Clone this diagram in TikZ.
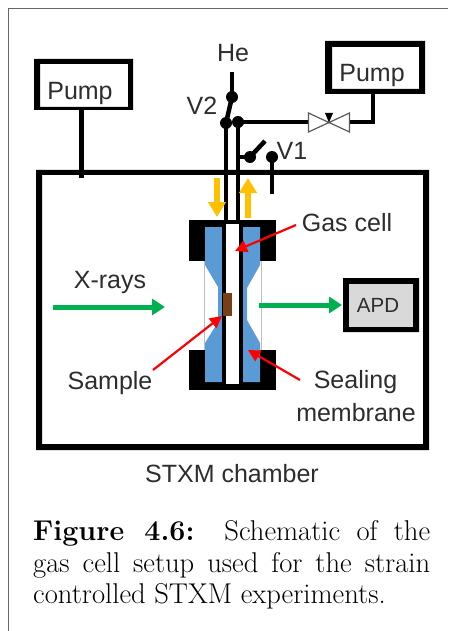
\documentclass[tikz,border=0pt]{standalone}
\usepackage{fontspec}
\setsansfont{Liberation Sans}
\usetikzlibrary{arrows.meta}
\definecolor{memb}{RGB}{91,155,213}
\definecolor{goldar}{RGB}{255,192,0}
\definecolor{greenar}{RGB}{0,176,80}
\definecolor{brownS}{RGB}{120,62,20}
\definecolor{txt}{RGB}{45,45,45}
\tikzset{
 x=1pt,y=-1pt,
 pipe/.style={line width=4.5pt},
 arm/.style={line width=4.5pt},
 lab/.style={font=\sffamily\fontsize{25}{25}\selectfont,text=txt,inner sep=0pt,anchor=base},
 capt/.style={font=\rmfamily\fontsize{28.6}{32}\selectfont,inner sep=0pt,anchor=base west},
 joint/.style={circle,fill=black,inner sep=0pt,minimum size=12pt},
 redar/.style={red,line width=2.2pt,-{Triangle[length=12pt,width=12pt]}},
 greenarrow/.style={greenar,line width=5pt,-{Triangle[length=13pt,width=16pt]}},
 goldarrow/.style={goldar,line width=6pt,-{Triangle[length=15pt,width=17pt]}},
 valve/.style={gray!70!black,line width=1.2pt,fill=white},
}
\begin{document}
\begin{tikzpicture}
\useasboundingbox (0,0) rectangle (448,631);
\fill[white] (0,0) rectangle (448,631);
\coordinate (fa) at (8,631); \coordinate (fb) at (8,9); \coordinate (fc) at (448,9);
\draw[gray!80!black,line width=1pt] (fa) -- (fb) -- (fc);
% chamber
\fill[even odd rule] (36,170) rectangle (429,450) (42,175) rectangle (423,444);
% pumps
\fill[even odd rule] (34,59) rectangle (133,110) (40,64) rectangle (128,107);
\node[lab] (p1) at (80,100) {Pump};
\fill[even odd rule] (325,41) rectangle (425,94) (332,47) rectangle (419,89);
\node[lab] (p2) at (372,82) {Pump};
\coordinate (c1) at (81.5,178);
\draw[pipe] (81.5,110) -- (c1);
% cell
\fill (189,220) rectangle (276,261);
\fill (189,350) rectangle (276,390);
\draw[gray!50,line width=.6pt] (204,261) -- (204,350) (261,261) -- (261,350);
\fill[memb] (205,227) -- (222,227) -- (222,382) -- (205,382) -- (205,343) -- (218,322) -- (218,287) -- (205,265) -- cycle;
\fill[memb] (243,227) -- (260,227) -- (260,265) -- (247,288) -- (247,320) -- (260,343) -- (260,382) -- (243,382) -- cycle;
\fill[black] (221.5,224) rectangle (225.5,384);
\fill[black] (239,224) rectangle (243,384);
\fill[white] (225.5,224) rectangle (239,384);
\fill[brownS] (223,293) rectangle (232,316);
% pipes
\coordinate (he) at (232,72); \coordinate (v2a) at (232,97); \coordinate (v2b) at (226,123);
\coordinate (j2) at (238,122); \coordinate (v1a) at (250,157); \coordinate (v1b) at (272,157);
\draw[pipe] (v2b) -- (226,222);
\draw[pipe] (j2) -- (238,222);
\draw[pipe] (he) -- (v2a);
\draw[arm] (v2a) -- (v2b);
\node[joint] (n1) at (v2a) {};
\node[joint] (n2) at (v2b) {};
\node[joint] (n3) at (j2) {};
\draw[pipe] (238,157) -- (v1a);
\node[joint] (n4) at (v1a) {};
\draw[arm] (v1a) -- (265,141);
\node[joint] (n5) at (v1b) {};
\draw[pipe] (v1b) -- (272,194);
% valve line
\draw[pipe] (j2) -- (309,122);
\draw[pipe] (349,122) -- (373,122) -- (373,92);
\draw[valve] (308.5,113) -- (308.5,132) -- (329,122.5) -- cycle;
\draw[valve] (349.5,113) -- (349.5,132) -- (329,122.5) -- cycle;
\fill (329,122.5) -- (325,113) -- (333,113) -- cycle;
% gold arrows
\draw[goldarrow] (217,178) -- (217,217);
\draw[goldarrow] (248,218) -- (248,178);
% green
\coordinate (xs) at (53,307); \coordinate (xe) at (165,307);
\draw[greenarrow] (xs) -- (xe);
\coordinate (gs) at (259,305);
\fill[even odd rule] (343,278) rectangle (419,332) (349,284) rectangle (413,327);
\fill[black!15] (349,284) rectangle (413,327);
\node[lab,font=\sffamily\fontsize{20.5}{20.5}\selectfont] (apd) at (378,312.5) {APD};
\draw[greenarrow] (gs) -- (342,305);
% labels
\node[lab] (he1) at (233,62) {He};
\node[lab] (v2) at (202,115) {V2};
\node[lab] (v1) at (292,160) {V1};
\node[lab] (gc) at (347,231) {Gas cell};
\node[lab] (xr) at (110,288) {X-rays};
\node[lab] (sa) at (110,389) {Sample};
\node[lab] (se) at (355.5,388) {Sealing};
\node[lab] (me) at (356,421.5) {membrane};
\coordinate (t1) at (235,251); \coordinate (t2) at (222,316); \coordinate (t3) at (248,350);
\coordinate (r1) at (296,225); \coordinate (r2) at (153,370); \coordinate (r3) at (300,380);
\draw[redar] (r1) -- (t1);
\draw[redar] (r2) -- (t2);
\draw[redar] (r3) -- (t3);
\node[lab] (st) at (232,482) {STXM chamber};
% caption
\node[capt] (c1a) at (33,540) {\makebox[397pt][s]{\textbf{Figure 4.6:}\hspace{3pt} Schematic of the}};
\node[capt] (c2) at (33,572) {\makebox[397pt][s]{gas cell setup used for the strain}};
\node[capt] (c3) at (33,603.5) {controlled STXM experiments.};
\end{tikzpicture}
\end{document}
